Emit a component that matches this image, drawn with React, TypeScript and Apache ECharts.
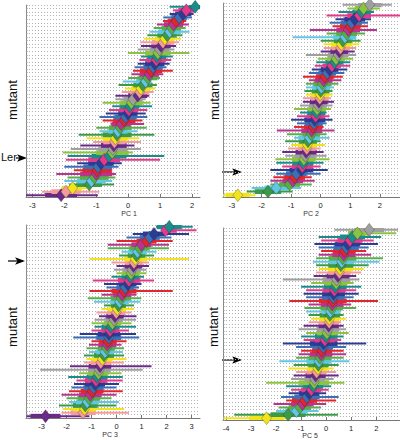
import React, { useEffect, useRef } from "react";
import * as echarts from "echarts";

// ---- PC 1 (rows from bottom to top) ----
const pc1Center = [-2.1,-1.95,-1.74,-1.22,-1.15,-1.06,-1.0,-0.98,-0.95,-0.85,-0.75,-0.6,-0.5,-0.48,-0.45,-0.43,-0.4,-0.35,-0.32,-0.25,-0.22,-0.12,-0.08,-0.01,0.02,0.05,0.1,0.15,0.3,0.36,0.4,0.46,0.55,0.62,0.66,0.72,0.78,0.83,0.88,0.9,0.93,0.98,1.03,1.09,1.15,1.22,1.3,1.36,1.42,1.5,1.6,1.72,1.82,2.1];
const pc1Lo = [-3.2,-2.7,-2.1,-1.85,-2.0,-1.9,-2.25,-1.7,-2.0,-1.6,-1.95,-1.9,-2.05,-1.8,-1.5,-1.1,-1.3,-1.55,-0.9,-1.0,-0.55,-0.8,-0.9,-0.7,-0.6,-0.5,-0.8,-0.4,-0.4,-0.2,-0.1,-0.3,-0.17,0.0,0.1,0.15,0.2,0.3,0.35,0.4,-0.01,0.3,0.4,0.38,0.5,0.6,0.67,0.8,0.9,1.09,1.1,1.3,1.4,1.3];
const pc1Hi = [-0.95,-0.9,-1.3,-0.44,-0.5,-0.4,-0.38,-0.5,-0.3,-0.2,1.0,1.13,0.15,0.4,0.2,0.4,0.35,0.82,0.3,0.58,0.5,0.45,0.6,0.55,0.6,0.75,0.7,0.55,0.66,0.8,0.85,0.9,0.72,1.0,1.1,1.4,1.2,1.3,1.35,1.4,1.92,1.45,1.5,1.6,1.65,1.7,1.92,1.8,1.9,1.82,2.0,2.05,2.1,2.25];
const pc1Half = [0.5,0.45,0.3,0.4,0.45,0.45,0.5,0.45,0.45,0.4,0.5,0.55,0.5,0.45,0.4,0.35,0.4,0.45,0.3,0.35,0.3,0.35,0.35,0.3,0.3,0.3,0.35,0.3,0.3,0.3,0.3,0.3,0.3,0.3,0.3,0.35,0.3,0.3,0.3,0.3,0.4,0.3,0.3,0.35,0.3,0.3,0.35,0.3,0.3,0.25,0.25,0.25,0.25,0.2];
const pc1Ticks = [-3, -2, -1, 0, 1, 2];

// ---- PC 2 ----
const pc2Center = [-2.8,-1.78,-1.5,-1.05,-0.94,-0.88,-0.82,-0.65,-0.62,-0.6,-0.57,-0.52,-0.49,-0.47,-0.45,-0.43,-0.38,-0.32,-0.3,-0.26,-0.23,-0.2,-0.17,-0.15,-0.12,-0.09,-0.06,-0.03,-0.02,0.0,0.02,0.06,0.1,0.14,0.22,0.3,0.38,0.47,0.52,0.59,0.63,0.67,0.7,0.75,0.82,0.88,0.93,1.0,1.04,1.15,1.3,1.38,1.45,1.66];
const pc2Lo = [-3.3,-2.5,-2.33,-1.7,-1.7,-1.6,-1.5,-1.7,-1.3,-1.5,-1.53,-1.2,-1.3,-1.1,-1.0,-1.2,-0.9,-1.14,-1.48,-0.9,-0.8,-1.0,-0.8,-0.7,-0.9,-0.7,-0.6,-0.6,-0.5,-0.55,-0.5,-0.5,-0.4,-0.6,-0.4,-0.3,-0.2,-0.15,-0.1,-0.5,0.0,0.1,0.1,0.0,-0.95,0.2,-0.37,0.4,0.3,0.5,0.2,0.6,0.9,0.74];
const pc2Hi = [-2.2,-0.95,-0.66,-0.3,-0.2,-0.3,0.0,0.24,0.0,0.1,0.3,0.2,0.1,0.0,0.15,0.0,0.3,0.2,0.47,0.1,0.2,0.4,0.3,0.2,0.35,0.4,0.45,0.35,0.4,0.4,0.45,0.6,0.7,0.75,0.8,0.9,1.0,1.0,1.1,1.2,1.15,1.2,1.3,1.35,1.2,1.5,1.9,1.6,1.6,1.7,2.68,1.8,2.0,2.4];
const pc2Half = [0.4,0.45,0.4,0.35,0.35,0.35,0.35,0.4,0.35,0.35,0.4,0.35,0.35,0.3,0.3,0.3,0.35,0.3,0.35,0.3,0.3,0.35,0.3,0.3,0.3,0.3,0.3,0.3,0.3,0.3,0.3,0.3,0.3,0.3,0.3,0.3,0.3,0.3,0.3,0.35,0.3,0.3,0.35,0.3,0.4,0.35,0.4,0.35,0.35,0.35,0.4,0.3,0.3,0.4];
const pc2Ticks = [-3, -2, -1, 0, 1, 2];

// ---- PC 3 ----
const pc3Center = [-2.84,-1.34,-1.28,-1.25,-1.17,-1.1,-1.05,-0.97,-0.92,-0.86,-0.82,-0.78,-0.72,-0.69,-0.66,-0.63,-0.56,-0.5,-0.46,-0.4,-0.37,-0.34,-0.31,-0.3,-0.26,-0.23,-0.16,-0.1,-0.06,-0.01,0.03,0.08,0.12,0.18,0.22,0.3,0.35,0.45,0.5,0.55,0.58,0.62,0.68,0.7,0.75,0.8,0.84,0.92,1.0,1.2,1.33,1.5,1.96,2.11];
const pc3Lo = [-3.6,-2.2,-2.15,-2.3,-1.9,-2.0,-2.2,-1.9,-1.8,-1.7,-1.6,-1.93,-1.5,-3.05,-1.86,-1.3,-1.2,-1.3,-1.1,-1.2,-1.1,-1.0,-1.73,-1.47,-1.0,-0.88,-1.0,-0.88,-0.7,-0.8,-0.6,-0.5,-0.9,-1.15,-0.6,-1.08,-0.4,-0.5,-0.95,-0.2,0.0,-0.1,0.0,-0.2,-1.08,0.1,0.2,-0.35,-0.35,0.0,0.4,0.65,1.85,1.58];
const pc3Hi = [-1.08,0.5,0.3,0.0,0.1,-0.2,0.0,0.25,0.0,0.1,0.25,0.25,0.2,1.05,1.4,0.3,0.4,0.3,0.25,0.3,0.2,0.4,0.91,0.78,0.5,0.78,0.6,0.78,0.8,0.6,0.7,0.7,0.95,0.99,0.8,2.25,0.9,1.0,1.5,1.1,1.2,1.2,1.3,1.3,2.9,1.5,1.6,2.1,2.1,2.25,2.2,2.9,3.2,3.05];
const pc3Half = [0.6,0.5,0.45,0.5,0.45,0.45,0.45,0.45,0.4,0.4,0.45,0.4,0.4,0.45,0.45,0.4,0.4,0.4,0.35,0.35,0.35,0.35,0.5,0.45,0.35,0.35,0.35,0.35,0.35,0.35,0.35,0.3,0.35,0.4,0.35,0.5,0.35,0.35,0.45,0.35,0.35,0.35,0.35,0.35,0.45,0.35,0.35,0.4,0.4,0.4,0.4,0.45,0.45,0.5];
const pc3Ticks = [-3, -2, -1, 0, 1, 2, 3];

// ---- PC 5 ----
const pc5Center = [-2.38,-1.52,-1.19,-1.05,-0.95,-0.86,-0.77,-0.68,-0.59,-0.52,-0.48,-0.46,-0.42,-0.38,-0.33,-0.31,-0.29,-0.25,-0.2,-0.17,-0.12,-0.1,-0.05,0.0,0.03,0.08,0.1,0.12,0.13,0.15,0.17,0.22,0.24,0.26,0.28,0.3,0.33,0.36,0.4,0.42,0.47,0.53,0.56,0.59,0.62,0.66,0.7,0.73,0.8,0.86,0.95,1.05,1.25,1.72];
const pc5Lo = [-4.1,-3.67,-2.0,-1.9,-2.1,-1.6,-1.8,-1.5,-1.4,-1.6,-2.4,-1.4,-1.3,-1.2,-1.5,-1.3,-1.87,-1.2,-1.1,-1.0,-1.2,-1.73,-0.9,-1.0,-0.8,-1.1,-0.9,-0.7,-0.6,-0.7,-0.8,-0.87,-0.7,-1.47,-0.8,-0.9,-0.8,-1.0,-0.6,-1.73,-0.5,-0.4,-0.3,-0.4,-0.53,-0.4,-0.3,-0.2,-0.3,-0.47,-0.2,-0.3,0.87,0.33];
const pc5Hi = [-1.4,0.47,-0.3,-0.2,0.0,0.4,0.5,0.0,0.1,0.2,0.73,0.3,0.5,0.4,0.3,0.5,0.93,0.7,0.8,0.7,0.8,1.6,0.6,0.7,0.9,0.8,0.7,0.6,0.8,0.7,0.6,1.2,1.0,2.07,1.1,1.3,1.2,1.4,1.1,1.33,1.2,1.4,1.5,1.7,2.13,2.27,1.8,1.6,1.7,2.07,1.9,2.2,2.8,2.87];
const pc5Half = [0.7,0.7,0.45,0.45,0.45,0.5,0.5,0.4,0.4,0.4,0.6,0.4,0.4,0.4,0.4,0.4,0.5,0.45,0.45,0.4,0.4,0.55,0.4,0.45,0.4,0.45,0.4,0.4,0.4,0.4,0.35,0.45,0.45,0.55,0.45,0.45,0.45,0.45,0.45,0.55,0.45,0.45,0.5,0.5,0.5,0.55,0.45,0.45,0.5,0.5,0.5,0.5,0.5,0.6];
const pc5Ticks = [-4, -3, -2, -1, 0, 1, 2];

const palette = ["#6b2a88", "#1b8c8c", "#3c6fb6", "#56b04a", "#f2e41c", "#9f9f9f", "#e5398c", "#e1262d", "#62c6e4", "#f49c9a", "#8cc43f", "#2c3c94", "#b8348f", "#3a9a48"];

const FONT = "'Liberation Sans', Arial, Helvetica, sans-serif";

const panels = [
  { name: "PC 1", center: pc1Center, lo: pc1Lo, hi: pc1Hi, half: pc1Half, ticks: pc1Ticks, min: -3.2, max: 2.25, grid: { left: 26, top: 5, width: 174, height: 192 }, offset: 0, namePos: [129, 213] },
  { name: "PC 2", center: pc2Center, lo: pc2Lo, hi: pc2Hi, half: pc2Half, ticks: pc2Ticks, min: -3.3, max: 2.68, grid: { left: 223, top: 3, width: 177, height: 194 }, offset: 4, namePos: [311, 213] },
  { name: "PC 3", center: pc3Center, lo: pc3Lo, hi: pc3Hi, half: pc3Half, ticks: pc3Ticks, min: -3.62, max: 3.34, grid: { left: 26, top: 225, width: 174, height: 193 }, offset: 0, namePos: [110, 434] },
  { name: "PC 5", center: pc5Center, lo: pc5Lo, hi: pc5Hi, half: pc5Half, ticks: pc5Ticks, min: -4.12, max: 2.95, grid: { left: 223, top: 228, width: 177, height: 192 }, offset: 4, namePos: [310, 435] },
];

const mutantLabels = [[12, 100], [214, 100], [12, 327], [213, 327]];
const arrows = [[16, 27, 158], [222, 242, 172], [8, 25, 261], [222, 242, 360]];

function arrow(x0: number, x1: number, y: number) {
  return {
    type: "group",
    z: 100,
    children: [
      { type: "line", shape: { x1: x0, y1: y, x2: x1 - 6, y2: y }, style: { stroke: "#000", lineWidth: 1.2 } },
      { type: "polygon", shape: { points: [[x1 - 10, y - 3.8], [x1, y], [x1 - 10, y + 3.8], [x1 - 7.5, y]] }, style: { fill: "#000" } },
    ],
  };
}

const renderBars = (params: any, api: any) => {
  const y = api.value(0);
  const c = api.value(1);
  const lo = api.value(2);
  const hi = api.value(3);
  const h = api.value(4);
  const col = palette[api.value(5)];
  const a = api.coord([lo, y]);
  const b = api.coord([hi, y]);
  const t1 = api.coord([Math.max(lo, c - h), y]);
  const t2 = api.coord([Math.min(hi, c + h), y]);
  return {
    type: "group",
    children: [
      { type: "rect", shape: { x: a[0], y: a[1] - 1, width: b[0] - a[0], height: 2 }, style: { fill: col } },
      { type: "rect", shape: { x: t1[0], y: t1[1] - 2.4, width: t2[0] - t1[0], height: 4.8 }, style: { fill: col } },
    ],
  };
};

export default function App() {
  const ref = useRef<HTMLDivElement>(null);
  useEffect(() => {
    const chart = echarts.init(ref.current!, null, { renderer: "svg" });
    const grid: any[] = [];
    const xAxis: any[] = [];
    const yAxis: any[] = [];
    const series: any[] = [];
    const graphic: any[] = [];
    panels.forEach((p, k) => {
      const n = p.center.length;
      grid.push({ ...p.grid, containLabel: false });
      xAxis.push({
        gridIndex: k,
        type: "value",
        min: p.min,
        max: p.max,
        axisLine: { show: true, onZero: false, lineStyle: { color: "#777", width: 1 } },
        axisTick: { show: true, inside: true, length: 3, customValues: p.ticks, lineStyle: { color: "#777" } },
        axisLabel: { customValues: p.ticks, fontSize: 7.5, color: "#222", margin: 4, fontFamily: FONT },
        splitLine: { show: false },
      });
      yAxis.push({
        gridIndex: k,
        type: "value",
        min: 0,
        max: n,
        interval: 1,
        axisLine: { show: true, onZero: false, lineStyle: { color: "#888", width: 1 } },
        axisTick: { show: true, inside: true, length: 2, lineStyle: { color: "#999", width: 0.6 } },
        axisLabel: { show: false },
        splitLine: { show: true, lineStyle: { color: "#b3b3b3", width: 1, type: [1, 2] } },
      });
      const rows = p.center.map((c, i) => [i + 0.5, c, p.lo[i], p.hi[i], p.half[i], (i * 9 + p.offset) % palette.length]);
      series.push({
        type: "custom",
        xAxisIndex: k,
        yAxisIndex: k,
        clip: true,
        renderItem: renderBars,
        encode: { x: [1, 2, 3], y: 0 },
        data: rows,
        silent: true,
        z: 2,
      });
      series.push({
        type: "scatter",
        xAxisIndex: k,
        yAxisIndex: k,
        symbol: "diamond",
        symbolSize: [10, 13],
        data: rows.map((r) => [r[1], r[0], r[5]]),
        itemStyle: {
          color: (prm: any) => palette[prm.value[2]],
          borderColor: "rgba(30,30,30,0.45)",
          borderWidth: 0.6,
          opacity: 1,
        },
        silent: true,
        z: 3,
      });
      graphic.push({
        type: "text",
        x: p.namePos[0],
        y: p.namePos[1],
        style: { text: p.name, fontSize: 7, fill: "#333", fontFamily: FONT, align: "center", verticalAlign: "middle" },
      });
    });
    mutantLabels.forEach(([x, y]) => {
      graphic.push({
        type: "text",
        x,
        y,
        rotation: Math.PI / 2,
        style: { text: "mutant", fontSize: 13, fill: "#111", fontFamily: FONT, align: "center", verticalAlign: "middle" },
      });
    });
    graphic.push({
      type: "text",
      x: 1,
      y: 157,
      style: { text: "Ler", fontSize: 11, fill: "#111", fontFamily: FONT, align: "left", verticalAlign: "middle" },
    });
    arrows.forEach(([x0, x1, y]) => graphic.push(arrow(x0, x1, y)));

    chart.setOption({
      animation: false,
      backgroundColor: "#ffffff",
      grid,
      xAxis,
      yAxis,
      series,
      graphic,
    });
    return () => chart.dispose();
  }, []);
  return <div ref={ref} style={{ position: "absolute", left: 0, top: 0, width: 400, height: 440 }} />;
}
